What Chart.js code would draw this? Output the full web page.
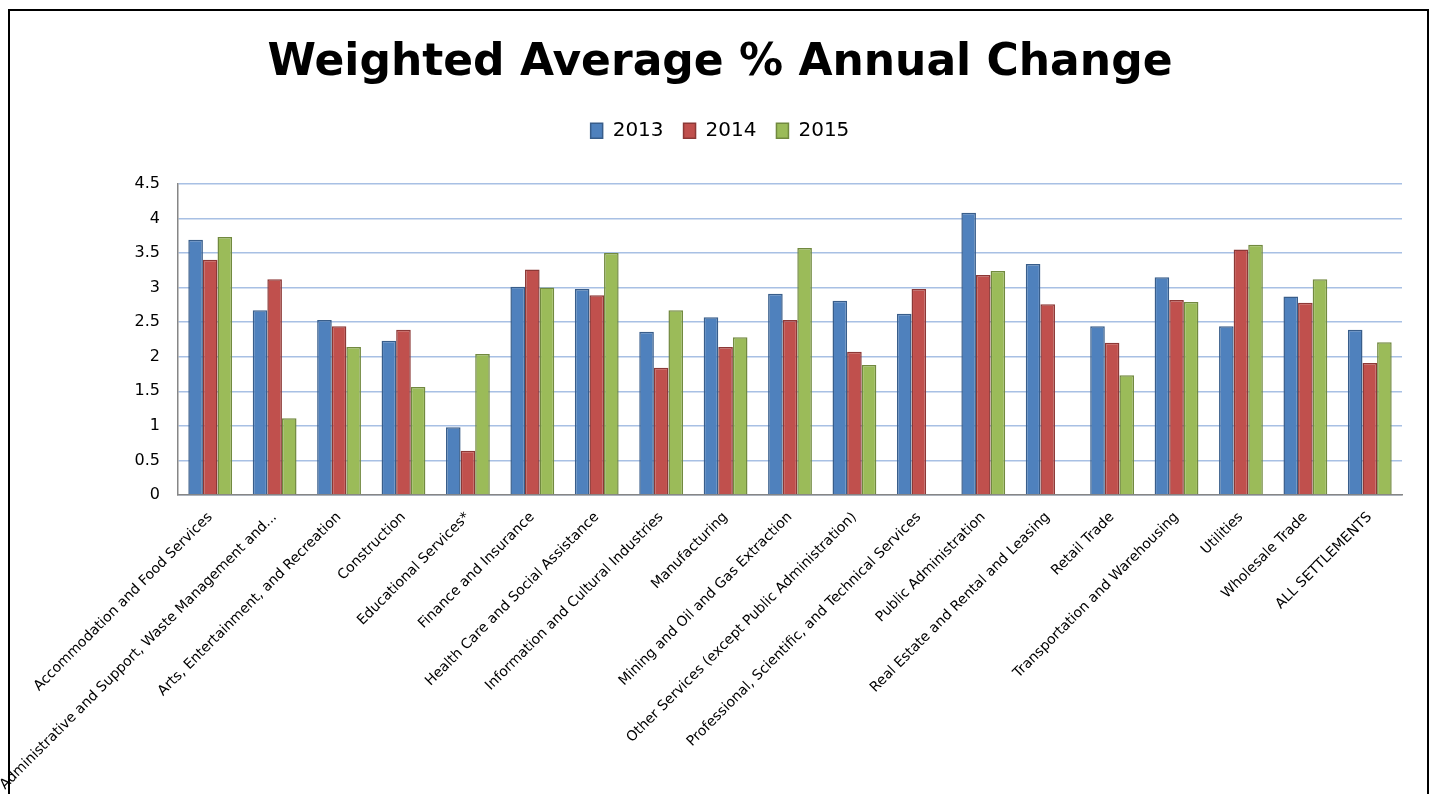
<!DOCTYPE html>
<html>
<head>
<meta charset="utf-8">
<title>Weighted Average % Annual Change</title>
<script src="https://cdn.jsdelivr.net/npm/chart.js@4/dist/chart.umd.min.js"></script>
<style>
  body { margin: 0; background: #fff; }
  canvas { display: block; }
</style>
</head>
<body>
<canvas id="chart" width="1432" height="794"></canvas>
<script>
const categories = [
    "Accommodation and Food Services",
    "Administrative and Support, Waste Management and...",
    "Arts, Entertainment, and Recreation",
    "Construction",
    "Educational Services*",
    "Finance and Insurance",
    "Health Care and Social Assistance",
    "Information and Cultural Industries",
    "Manufacturing",
    "Mining and Oil and Gas Extraction",
    "Other Services (except Public Administration)",
    "Professional, Scientific, and Technical Services",
    "Public Administration",
    "Real Estate and Rental and Leasing",
    "Retail Trade",
    "Transportation and Warehousing",
    "Utilities",
    "Wholesale Trade",
    "ALL SETTLEMENTS"
];
const values2013 = [3.69, 2.67, 2.53, 2.23, 0.98, 3.01, 2.98, 2.36, 2.57, 2.91, 2.81, 2.62, 4.08, 3.34, 2.44, 3.15, 2.44, 2.87, 2.39];
const values2014 = [3.40, 3.12, 2.44, 2.39, 0.64, 3.26, 2.89, 1.84, 2.14, 2.53, 2.07, 2.98, 3.18, 2.76, 2.20, 2.82, 3.55, 2.78, 1.91];
const values2015 = [3.73, 1.11, 2.14, 1.56, 2.04, 3.00, 3.50, 2.67, 2.28, 3.57, 1.88, null, 3.24, null, 1.73, 2.79, 3.62, 3.12, 2.21];
const seriesLabels = ["2013", "2014", "2015"];
const yMin = 0;
const yMax = 4.5;
const yStep = 0.5;

Chart.defaults.font.family = "'DejaVu Sans', Verdana, sans-serif";
Chart.defaults.color = "#000";

// white page + the black frame round the whole chart
const framePlugin = {
    id: "frame",
    beforeDraw(chart) {
        const ctx = chart.ctx;
        ctx.save();
        ctx.fillStyle = "#fff";
        ctx.fillRect(0, 0, chart.width, chart.height);
        ctx.strokeStyle = "#000";
        ctx.lineWidth = 2;
        ctx.strokeRect(9, 10, 1419, 820);
        ctx.restore();
    }
};

function series(label, data, fill, border) {
    return {
        label: label,
        data: data,
        backgroundColor: fill,
        borderColor: border,
        borderWidth: 1.5,
        categoryPercentage: 0.68,
        barPercentage: 1.0
    };
}

new Chart(document.getElementById("chart"), {
    type: "bar",
    data: {
        labels: categories,
        datasets: [
            series(seriesLabels[0], values2013, "#4f81bd", "#385d8a"),
            series(seriesLabels[1], values2014, "#c0504d", "#8c3836"),
            series(seriesLabels[2], values2015, "#9bbb59", "#71893f")
        ]
    },
    options: {
        responsive: false,
        animation: false,
        layout: { padding: { left: 38, right: 30, top: 0, bottom: 0 } },
        plugins: {
            title: {
                display: true,
                text: "Weighted Average % Annual Change",
                font: { size: 44, weight: "bold" },
                padding: { top: 37, bottom: 11 }
            },
            legend: {
                display: true,
                position: "top",
                labels: {
                    boxWidth: 12,
                    boxHeight: 15,
                    padding: 20,
                    font: { size: 20 }
                }
            },
            tooltip: { enabled: false }
        },
        scales: {
            x: {
                grid: { display: false },
                border: { display: true, color: "#868686", width: 1.5 },
                ticks: {
                    autoSkip: false,
                    maxRotation: 45,
                    minRotation: 45,
                    padding: 6,
                    font: { size: 14 }
                },
                afterFit(scale) { scale.height = 299; }
            },
            // empty axis, only keeps the gap between legend and plot
            xGap: {
                type: "category",
                position: "top",
                labels: categories,
                grid: { display: false },
                border: { display: false },
                ticks: { display: false },
                afterFit(scale) { scale.height = 33; }
            },
            y: {
                min: yMin,
                max: yMax,
                ticks: {
                    stepSize: yStep,
                    padding: 18,
                    font: { size: 16 },
                    callback: (v) => String(v)
                },
                grid: { color: "#a8c0e4", lineWidth: 1.5, drawTicks: false },
                border: { display: true, color: "#868686", width: 1.5 },
                afterFit(scale) { scale.width = 140; }
            }
        }
    },
    plugins: [framePlugin]
});
</script>
</body>
</html>
